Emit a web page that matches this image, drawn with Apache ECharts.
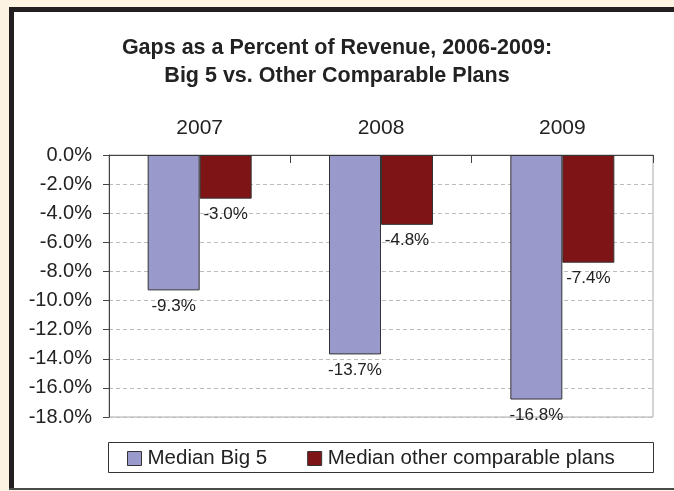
<!DOCTYPE html>
<html>
<head>
<meta charset="utf-8">
<script src="https://cdn.jsdelivr.net/npm/echarts@6/dist/echarts.min.js"></script>
<style>
  html, body { margin: 0; padding: 0; background: #fdf3e2; }
  #chart { width: 674px; height: 491px; }
</style>
</head>
<body>
<div id="chart"></div>
<script>
// Funding gaps as a share of revenue, by year
const years = ['2007', '2008', '2009'];
const big5 = [-9.3, -13.7, -16.8];
const otherPlans = [-3.0, -4.8, -7.4];
const seriesNames = ['Median Big 5', 'Median other comparable plans'];
const titleLines = ['Gaps as a Percent of Revenue, 2006-2009:', 'Big 5 vs. Other Comparable Plans'];

const FONT = 'Arial, "Liberation Sans", Helvetica, sans-serif';
const pct = v => v.toFixed(1) + '%';

const chart = echarts.init(document.getElementById('chart'), null, { renderer: 'canvas' });

const labelStyle = {
  show: true,
  position: 'bottom',
  distance: 7,
  formatter: p => pct(p.value),
  color: '#222',
  fontSize: 17,
  fontFamily: FONT
};

chart.setOption({
  backgroundColor: 'transparent',
  animation: false,
  textStyle: { fontFamily: FONT },
  graphic: [
    // white panel with dark frame
    { type: 'rect', z: -10, shape: { x: 9, y: 7, width: 700, height: 483 }, style: { fill: '#ffffff' } },
    { type: 'rect', z: -9, shape: { x: 9, y: 7, width: 5, height: 483 }, style: { fill: '#231f20' } },
    { type: 'rect', z: -9, shape: { x: 9, y: 7, width: 700, height: 5 }, style: { fill: '#231f20' } },
    { type: 'rect', z: -9, shape: { x: 9, y: 488, width: 700, height: 2 }, style: { fill: '#4a4a4a' } },
    // legend frame
    { type: 'rect', z: -5, shape: { x: 108.5, y: 442.5, width: 545, height: 30 }, style: { fill: '#ffffff', stroke: '#333', lineWidth: 1 } }
  ],
  title: {
    text: titleLines.join('\n'),
    left: 'center',
    top: 29,
    textStyle: { fontSize: 21.5, fontWeight: 'bold', color: '#222', lineHeight: 28, fontFamily: FONT }
  },
  legend: {
    data: seriesNames,
    left: 127,
    top: 448,
    padding: 0,
    itemWidth: 14,
    itemHeight: 14,
    itemGap: 40,
    icon: 'rect',
    itemStyle: { borderColor: '#333', borderWidth: 1 },
    textStyle: { fontSize: 20.5, color: '#222', fontFamily: FONT, padding: [0, 0, 0, 1] }
  },
  grid: {
    left: 109,
    right: 21,
    top: 155,
    bottom: 74,
    show: true,
    borderColor: '#aaa',
    borderWidth: 1,
    backgroundColor: 'transparent',
    containLabel: false
  },
  xAxis: {
    type: 'category',
    position: 'top',
    data: years,
    axisLine: { show: true, onZero: false, lineStyle: { color: '#444', width: 1 } },
    axisTick: { show: true, inside: true, length: 8, lineStyle: { color: '#444' } },
    axisLabel: { fontSize: 21, color: '#222', margin: 16, fontFamily: FONT },
    splitLine: { show: false }
  },
  yAxis: {
    type: 'value',
    min: -18,
    max: 0,
    interval: 2,
    axisLine: { show: true, lineStyle: { color: '#444', width: 1 } },
    axisTick: { show: true, length: 6, lineStyle: { color: '#444' } },
    axisLabel: { fontSize: 20, color: '#222', margin: 17, formatter: v => pct(v), fontFamily: FONT },
    splitLine: { show: true, lineStyle: { color: '#bdbdbd', type: [4, 3], width: 1 } }
  },
  series: [
    {
      name: seriesNames[0],
      type: 'bar',
      data: big5,
      barWidth: 52,
      barGap: '0%',
      itemStyle: { color: '#9999cc', borderColor: '#333', borderWidth: 1 },
      label: labelStyle
    },
    {
      name: seriesNames[1],
      type: 'bar',
      data: otherPlans,
      barWidth: 52,
      barGap: '0%',
      itemStyle: { color: '#7f1416', borderColor: '#333', borderWidth: 1 },
      label: labelStyle
    }
  ]
});
</script>
</body>
</html>
